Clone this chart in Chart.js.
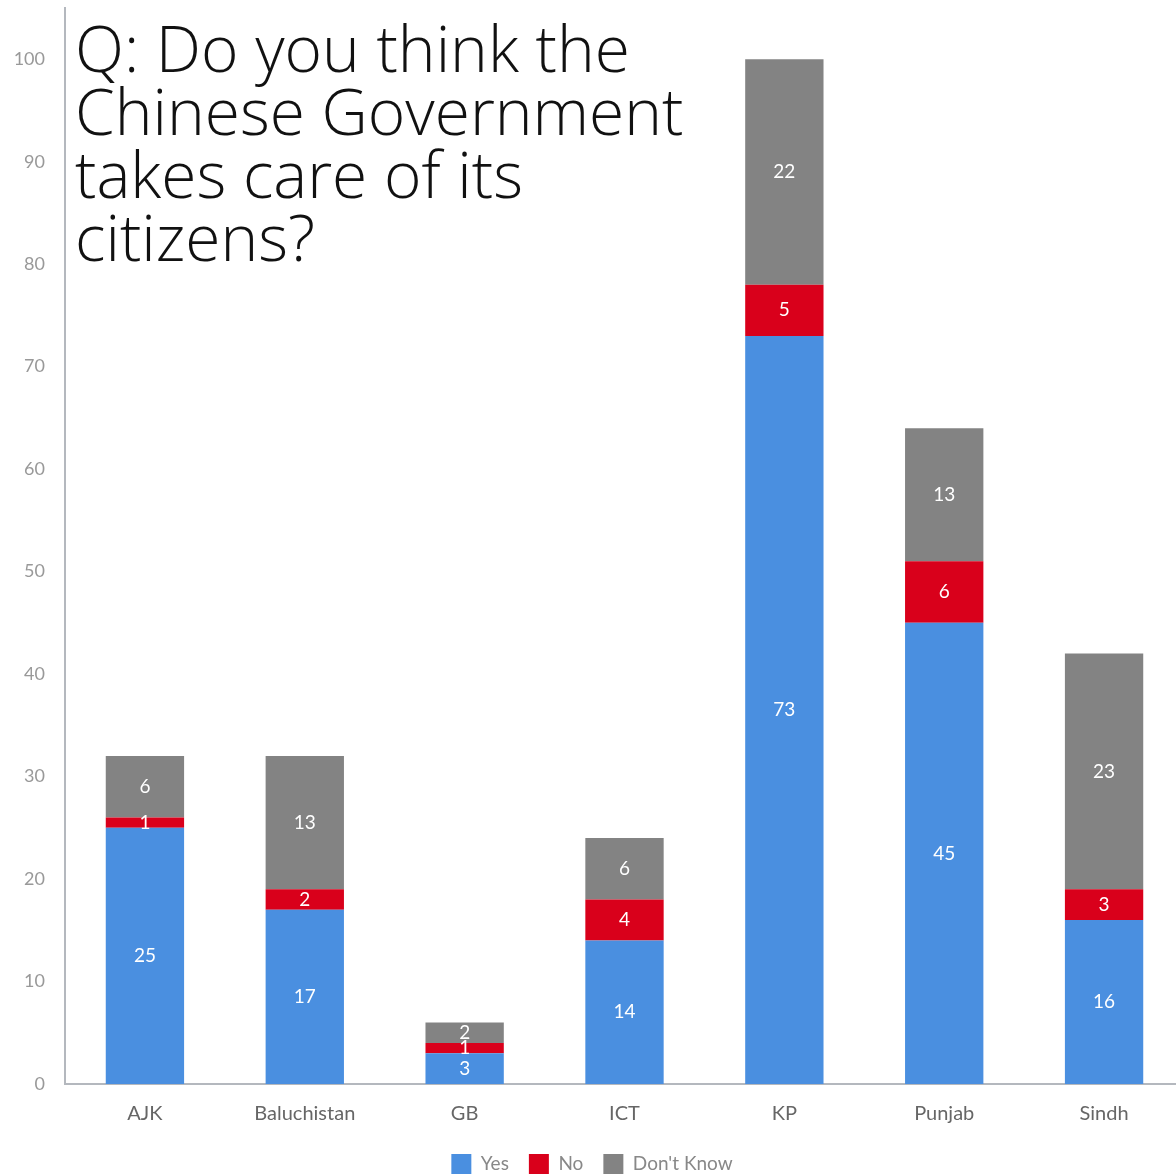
<!DOCTYPE html>
<html>
<head>
<meta charset="utf-8">
<script src="https://cdn.jsdelivr.net/npm/chart.js@4"></script>
<style>
  html, body { margin: 0; padding: 0; background: #fff; overflow: hidden; }
  #wrap { position: relative; width: 1184px; height: 1176px; }
  #title {
    position: absolute; left: 75px; top: 16px;
    font-family: "Open Sans", sans-serif; font-weight: 300;
    font-size: 64px; line-height: 63px; color: #111;
  }
</style>
</head>
<body>
<div id="wrap">
  <canvas id="chart" width="1184" height="1176"></canvas>
  <div id="title">Q: Do you think the<br>Chinese Government<br>takes care of its<br>citizens?</div>
</div>
<script>
// Données
const categories = ['AJK', 'Baluchistan', 'GB', 'ICT', 'KP', 'Punjab', 'Sindh'];
const yesValues = [25, 17, 3, 14, 73, 45, 16];
const noValues = [1, 2, 1, 4, 5, 6, 3];
const dontKnowValues = [6, 13, 2, 6, 22, 13, 23];
const yTicks = [0, 10, 20, 30, 40, 50, 60, 70, 80, 90, 100];

// Étiquettes blanches au centre de chaque segment
const segmentLabels = {
    id: 'segmentLabels',
    afterDatasetsDraw(chart) {
        const ctx = chart.ctx;
        ctx.save();
        ctx.fillStyle = '#fff';
        ctx.font = '19px Lato';
        ctx.textAlign = 'center';
        ctx.textBaseline = 'middle';
        chart.data.datasets.forEach((ds, i) => {
            chart.getDatasetMeta(i).data.forEach((bar, j) => {
                const y = (bar.y + bar.base) / 2;
                ctx.fillText(ds.data[j], bar.x, y);
            });
        });
        ctx.restore();
    }
};

const barOpts = { barPercentage: 0.49, categoryPercentage: 1, borderWidth: 0 };

new Chart(document.getElementById('chart'), {
    type: 'bar',
    data: {
        labels: categories,
        datasets: [
            { label: 'Yes', data: yesValues, backgroundColor: '#4a8fe0', ...barOpts },
            { label: 'No', data: noValues, backgroundColor: '#d9001b', ...barOpts },
            { label: "Don't Know", data: dontKnowValues, backgroundColor: '#838383', ...barOpts }
        ]
    },
    options: {
        responsive: false,
        animation: false,
        layout: { padding: { left: 0, top: 8, right: 0, bottom: -8 } },
        plugins: {
            legend: {
                position: 'bottom',
                labels: {
                    boxWidth: 20, boxHeight: 20, padding: 20,
                    color: '#888',
                    font: { family: 'Lato', size: 19 }
                }
            },
            tooltip: { enabled: false }
        },
        scales: {
            x: {
                stacked: true,
                grid: { display: false, drawTicks: false },
                border: { display: true, color: '#b4b8be', width: 2 },
                afterFit: (axis) => { axis.height -= 10; },
                ticks: { color: '#666', padding: 18, font: { family: 'Lato', size: 20 } }
            },
            y: {
                stacked: true,
                min: 0, max: 105,
                grid: { display: false, drawTicks: false },
                border: { display: true, color: '#b4b8be', width: 2 },
                afterBuildTicks: (axis) => { axis.ticks = yTicks.map(v => ({ value: v })); },
                afterFit: (axis) => { axis.width = 65; axis.paddingTop = 0; },
                ticks: { color: '#999', padding: 20, font: { family: 'Lato', size: 18 } }
            }
        }
    },
    plugins: [segmentLabels]
});
</script>
</body>
</html>
